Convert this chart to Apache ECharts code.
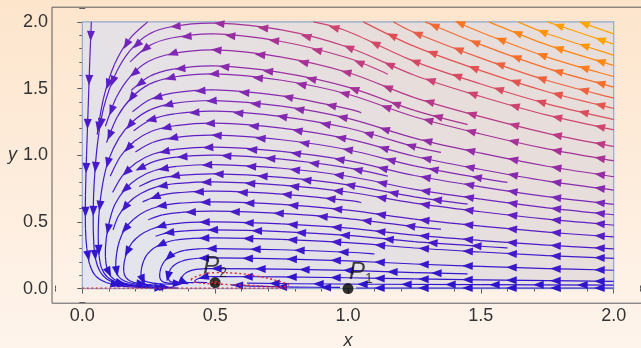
<!DOCTYPE html>
<html>
<head>
<meta charset="utf-8">
<script src="https://cdn.jsdelivr.net/npm/echarts@6/dist/echarts.min.js"></script>
<style>
  html, body { margin: 0; padding: 0; }
  #main { width: 641px; height: 348px; background: linear-gradient(180deg, #fde5cc 0%, #fef4ec 100%); }
</style>
</head>
<body>
<div id="main"></div>
<script>
// tick values
var majorTicks = [0, 0.5, 1, 1.5, 2];
var minorTicks = [-0.1, 0, 0.1, 0.2, 0.3, 0.4, 0.5, 0.6, 0.7, 0.8, 0.9, 1, 1.1, 1.2, 1.3, 1.4, 1.5, 1.6, 1.7, 1.8, 1.9, 2, 2.1];

// stream lines, in flow order (x, y)
var s009 = [[2,0.054],[1.75,0.059],[1.5,0.065],[1.25,0.072],[1,0.081],[0.75,0.087],[0.5,0.09],[0.46,0.087],[0.435,0.073],[0.423,0.05],[0.44,0.046],[0.47,0.045]];
var s015 = [[1.45,0.11],[1.25,0.12],[1,0.136],[0.75,0.146],[0.5,0.15],[0.455,0.148],[0.428,0.143],[0.405,0.132],[0.385,0.11],[0.374,0.08],[0.372,0.058],[0.385,0.047],[0.42,0.044]];
var s023 = [[2,0.137],[1.75,0.15],[1.5,0.166],[1.25,0.184],[1,0.208],[0.75,0.223],[0.5,0.23],[0.437,0.227],[0.401,0.219],[0.374,0.205],[0.352,0.184],[0.336,0.156],[0.326,0.12],[0.322,0.085],[0.33,0.055],[0.35,0.045],[0.39,0.04]];
var s030 = [[1.1,0.259],[1,0.272],[0.75,0.291],[0.5,0.3],[0.427,0.296],[0.385,0.286],[0.353,0.267],[0.328,0.24],[0.309,0.204],[0.298,0.165],[0.292,0.12],[0.292,0.08],[0.3,0.055],[0.32,0.043],[0.36,0.038]];
var s038 = [[2,0.226],[1.75,0.247],[1.5,0.274],[1.25,0.304],[1,0.344],[0.75,0.369],[0.5,0.38],[0.402,0.374],[0.346,0.362],[0.304,0.338],[0.27,0.304],[0.245,0.258],[0.231,0.209],[0.223,0.152],[0.221,0.1],[0.228,0.066],[0.25,0.046],[0.29,0.036],[0.34,0.032]];
var s044 = [[1.6,0.305],[1.5,0.317],[1.25,0.352],[1,0.398],[0.75,0.427],[0.5,0.44],[0.388,0.433],[0.324,0.419],[0.276,0.392]];
var s050 = [[2,0.298],[1.75,0.325],[1.5,0.36],[1.25,0.4],[1,0.453],[0.75,0.485],[0.5,0.5],[0.379,0.493],[0.31,0.476],[0.259,0.445],[0.217,0.4],[0.186,0.34],[0.169,0.275],[0.158,0.2],[0.156,0.13],[0.163,0.085],[0.182,0.055],[0.215,0.037],[0.26,0.028],[0.31,0.024]];
var s058 = [[1.35,0.445],[1.25,0.464],[1,0.525],[0.75,0.563],[0.5,0.58],[0.374,0.571],[0.302,0.552],[0.248,0.516]];
var s065 = [[2,0.387],[1.75,0.423],[1.5,0.468],[1.25,0.52],[1,0.588],[0.75,0.631],[0.5,0.65],[0.369,0.64],[0.294,0.619],[0.238,0.579],[0.193,0.52],[0.159,0.442],[0.14,0.358],[0.129,0.26],[0.126,0.17],[0.131,0.11],[0.147,0.07],[0.175,0.045],[0.215,0.03],[0.265,0.022]];
var s073 = [[1.05,0.645],[1,0.661],[0.75,0.708],[0.5,0.73],[0.364,0.719],[0.286,0.695],[0.227,0.65]];
var s080 = [[2,0.476],[1.75,0.52],[1.5,0.576],[1.25,0.64],[1,0.724],[0.75,0.776],[0.5,0.8],[0.36,0.788],[0.28,0.762],[0.22,0.712],[0.172,0.64],[0.136,0.544],[0.116,0.44]];
var s086 = [[1.45,0.633],[1.25,0.688],[1,0.778],[0.75,0.834],[0.5,0.86],[0.357,0.847],[0.276,0.819],[0.214,0.765]];
var s093 = [[2,0.553],[1.75,0.605],[1.5,0.67],[1.25,0.744],[1,0.842],[0.75,0.902],[0.5,0.93],[0.355,0.916],[0.272,0.885],[0.21,0.828],[0.161,0.744],[0.123,0.632],[0.103,0.512],[0.09,0.372],[0.087,0.24],[0.093,0.15],[0.108,0.09],[0.135,0.055],[0.175,0.033],[0.225,0.02]];
var s100 = [[1.15,0.842],[1,0.905],[0.75,0.97],[0.5,1.0],[0.353,0.985],[0.269,0.952],[0.206,0.89]];
var s106 = [[2,0.631],[1.75,0.689],[1.5,0.763],[1.25,0.848],[1,0.959],[0.75,1.028],[0.5,1.06],[0.352,1.044],[0.267,1.009],[0.203,0.943],[0.152,0.848],[0.114,0.721]];
var s115 = [[1.6,0.796],[1.5,0.828],[1.25,0.92],[1,1.041],[0.75,1.116],[0.5,1.15],[0.35,1.133],[0.264,1.095],[0.2,1.024]];
var s124 = [[2,0.738],[1.75,0.806],[1.5,0.893],[1.25,0.992],[1,1.122],[0.75,1.203],[0.5,1.24],[0.348,1.221],[0.261,1.18],[0.196,1.104],[0.144,0.992],[0.105,0.843]];
var s133 = [[1.35,1.021],[1.25,1.064],[1,1.204],[0.75,1.29],[0.5,1.33],[0.347,1.31],[0.259,1.266],[0.193,1.184]];
var s141 = [[2,0.839],[1.75,0.917],[1.5,1.015],[1.25,1.128],[1,1.276],[0.75,1.368],[0.5,1.41],[0.345,1.389],[0.257,1.342],[0.191,1.255],[0.138,1.128],[0.098,0.959],[0.076,0.776],[0.063,0.564],[0.06,0.38],[0.063,0.25],[0.073,0.15],[0.095,0.085],[0.13,0.047],[0.18,0.025],[0.25,0.013],[0.34,0.009]];
var s149 = [[1.05,1.317],[1,1.348],[0.75,1.445],[0.5,1.49],[0.344,1.468],[0.255,1.418],[0.189,1.326]];
var s161 = [[2,0.958],[1.75,1.047],[1.5,1.159],[1.25,1.288],[1,1.457],[0.75,1.562],[0.5,1.61],[0.343,1.586],[0.253,1.533],[0.186,1.433],[0.132,1.288],[0.091,1.095]];
var s167 = [[1.45,1.229],[1.25,1.336],[1,1.511],[0.75,1.62],[0.5,1.67],[0.342,1.645],[0.252,1.59],[0.184,1.486]];
var s179 = [[2,1.065],[1.75,1.164],[1.5,1.289],[1.25,1.432],[1,1.62],[0.75,1.736],[0.5,1.79],[0.341,1.763],[0.25,1.704],[0.182,1.593],[0.128,1.432],[0.087,1.217]];
var s191 = [[1.15,1.608],[1,1.729],[0.75,1.853],[0.5,1.91],[0.34,1.881],[0.249,1.818],[0.18,1.7]];
var s200 = [[2,1.19],[1.75,1.3],[1.5,1.44],[1.25,1.6],[1,1.81],[0.75,1.94],[0.5,1.99],[0.339,1.965],[0.247,1.904],[0.178,1.78],[0.123,1.6],[0.081,1.36],[0.058,1.1],[0.045,0.8],[0.041,0.55],[0.043,0.35],[0.05,0.22],[0.066,0.13],[0.093,0.07],[0.135,0.036],[0.2,0.017],[0.29,0.01]];
// lines entering from the top edge on the left
var t210 = [[0.246,2.0],[0.177,1.869],[0.121,1.68],[0.08,1.428],[0.056,1.155]];
var t400 = [[0.034,2.0],[0.028,1.7],[0.022,1.35],[0.016,1.0],[0.012,0.7],[0.012,0.45],[0.017,0.3],[0.028,0.18],[0.05,0.095],[0.09,0.045],[0.15,0.018],[0.24,0.007],[0.36,0.004]];
// lines leaving through the top edge on the right
var e1 = [[2,1.267],[1.75,1.385],[1.5,1.534],[1.25,1.704],[1,1.928],[0.87,2.0]];
var e2 = [[2,1.351],[1.75,1.476],[1.5,1.634],[1.25,1.816],[1.057,2.0]];
var e3 = [[2,1.428],[1.75,1.56],[1.5,1.728],[1.25,1.92],[1.171,2.0]];
var e4 = [[2,1.511],[1.75,1.651],[1.5,1.829],[1.29,2.0]];
var e5 = [[2,1.589],[1.75,1.736],[1.5,1.922],[1.41,2.0]];
var e6 = [[2,1.672],[1.75,1.827],[1.53,2.0]];
var e7 = [[2,1.749],[1.75,1.911],[1.64,2.0]];
var e8 = [[2,1.833],[1.75,2.0]];
var e9 = [[2,1.91],[1.87,2.0]];
// lines along the x axis
var b1 = [[2,0.004],[1.5,0.004],[1.03,0.004]];
var b2 = [[2,0.026],[1.5,0.029],[1.1,0.032],[0.8,0.036],[0.62,0.04]];
var b3 = [[0.97,0.008],[0.8,0.011],[0.65,0.018],[0.56,0.028]];

var streams = [s009, s015, s023, s030, s038, s044, s050, s058, s065, s073, s080, s086, s093, s100,
  s106, s115, s124, s133, s141, s149, s161, s167, s179, s191, s200,
  t210, t400, e1, e2, e3, e4, e5, e6, e7, e8, e9, b1, b2, b3];

// red dotted orbit around P2
var orbitLoop = [[0.409,0.069],[0.444,0.101],[0.506,0.119],[0.582,0.114],[0.669,0.089],[0.732,0.059],[0.776,0.026],[0.732,0.014],[0.632,0.024],[0.506,0.034],[0.431,0.044],[0.409,0.069]];
var orbitBase = [[0,0.003],[0.77,0.003]];
var orbitCore = [[0.485,0.045],[0.5,0.052],[0.516,0.045],[0.5,0.038],[0.485,0.045]];

// equilibrium points
var pointX = [1, 0.5];
var pointY = [0, 0.045];
var pointSub = ['1', '2'];

var ramp = [
  [0.00, [40, 18, 206]],
  [0.10, [58, 24, 204]],
  [0.25, [90, 30, 196]],
  [0.35, [122, 40, 184]],
  [0.50, [158, 46, 158]],
  [0.62, [200, 64, 120]],
  [0.72, [226, 82, 82]],
  [0.85, [252, 120, 32]],
  [1.00, [255, 166, 0]]
];

function speedColor(x, y) {
  var t = 0.02 + 0.13 * y + 0.2 * x * y;
  t = Math.max(0, Math.min(1, t));
  for (var i = 1; i < ramp.length; i++) {
    if (t <= ramp[i][0]) {
      var a = ramp[i - 1], b = ramp[i];
      var k = (t - a[0]) / (b[0] - a[0]);
      var c = [0, 1, 2].map(function (j) { return Math.round(a[1][j] + (b[1][j] - a[1][j]) * k); });
      return 'rgb(' + c.join(',') + ')';
    }
  }
  return 'rgb(255,166,0)';
}

function renderStream(params, api) {
  var idx = api.value(2);
  var line = streams[idx];
  var pts = line.map(function (p) { return api.coord(p); });
  var n = pts.length;
  var children = [];
  for (var i = 0; i < n - 1; i++) {
    var p0 = pts[Math.max(i - 1, 0)], p1 = pts[i], p2 = pts[i + 1], p3 = pts[Math.min(i + 2, n - 1)];
    var col = speedColor((line[i][0] + line[i + 1][0]) / 2, (line[i][1] + line[i + 1][1]) / 2);
    children.push({
      type: 'bezierCurve',
      shape: {
        x1: p1[0], y1: p1[1], x2: p2[0], y2: p2[1],
        cpx1: p1[0] + (p2[0] - p0[0]) / 6, cpy1: p1[1] + (p2[1] - p0[1]) / 6,
        cpx2: p2[0] - (p3[0] - p1[0]) / 6, cpy2: p2[1] - (p3[1] - p1[1]) / 6
      },
      style: { stroke: col, lineWidth: 1.2, fill: null }
    });
  }
  // arrow heads along the path, staggered from line to line
  var acc = 0, next = 14 + (idx * 17) % 34;
  for (var j = 0; j < n - 1; j++) {
    var a = pts[j], b = pts[j + 1];
    var dx = b[0] - a[0], dy = b[1] - a[1];
    var len = Math.sqrt(dx * dx + dy * dy);
    if (len < 0.01) continue;
    var ux = dx / len, uy = dy / len;
    while (acc + len >= next) {
      var f = (next - acc) / len;
      var px = a[0] + dx * f, py = a[1] + dy * f;
      var c = speedColor(line[j][0] + (line[j + 1][0] - line[j][0]) * f, line[j][1] + (line[j + 1][1] - line[j][1]) * f);
      children.push({
        type: 'polygon',
        shape: { points: [
          [px + ux * 5.5, py + uy * 5.5],
          [px - ux * 5 - uy * 4, py - uy * 5 + ux * 4],
          [px - ux * 5 + uy * 4, py - uy * 5 - ux * 4]
        ] },
        style: { fill: c }
      });
      next += 44;
    }
    acc += len;
  }
  return { type: 'group', children: children };
}

var axisFont = 'Liberation Sans';
var frameColor = '#5a5a5a';

function tickAxis(pos, values, len, labels, extra) {
  var ax = {
    type: 'value', position: pos, min: -0.114, max: 2.114,
    axisLine: { show: false }, splitLine: { show: false },
    axisTick: { show: true, inside: true, length: len, customValues: values, lineStyle: { color: frameColor, width: 1 } },
    axisLabel: { show: labels, customValues: values, formatter: function (v) { return v.toFixed(1); },
      fontSize: 18, color: '#333', fontFamily: axisFont, margin: 4 }
  };
  return Object.assign(ax, extra || {});
}

var xAxes = [
  tickAxis('bottom', majorTicks, 5, true, { name: 'x', nameLocation: 'middle', nameGap: 29,
    nameTextStyle: { fontStyle: 'italic', fontSize: 18, color: '#333', fontFamily: axisFont } }),
  tickAxis('bottom', minorTicks, 3, false),
  tickAxis('top', majorTicks, 5, false),
  tickAxis('top', minorTicks, 3, false)
];
var yAxes = [
  tickAxis('left', majorTicks, 5, true, { min: -0.11, max: 2.11, name: 'y', nameLocation: 'middle', nameGap: 34, nameRotate: 0,
    nameTextStyle: { fontStyle: 'italic', fontSize: 18, color: '#333', fontFamily: axisFont } }),
  tickAxis('left', minorTicks, 3, false, { min: -0.11, max: 2.11 }),
  tickAxis('right', majorTicks, 5, false, { min: -0.11, max: 2.11 }),
  tickAxis('right', minorTicks, 3, false, { min: -0.11, max: 2.11 })
];

// one label series per equilibrium point; position is relative to the 2px symbol box
var labelSpots = [[2, -1], [-11, -1]];
function pointLabel(i) {
  return {
    type: 'scatter', z: 9, zlevel: 1, silent: true, symbolSize: 2,
    itemStyle: { color: 'rgba(0,0,0,0)' },
    labelLayout: { hideOverlap: false },
    data: [[pointX[i], pointY[i], pointSub[i]]],
    label: {
      show: true, position: labelSpots[i], align: 'left', verticalAlign: 'bottom',
      formatter: function (p) { return '{p|P}{s|' + p.value[2] + '}'; },
      textBorderWidth: 0,
      rich: {
        p: { fontSize: 24, fontStyle: 'italic', fontFamily: axisFont, color: '#111', lineHeight: 26, verticalAlign: 'top' },
        s: { fontSize: 14, fontFamily: axisFont, color: '#111', lineHeight: 14, verticalAlign: 'bottom' }
      }
    }
  };
}

var chart = echarts.init(document.getElementById('main'), null, { renderer: 'canvas' });

var option = {
  backgroundColor: 'transparent',
  animation: false,
  grid: { left: 52, top: 7.2, width: 592, height: 296, containLabel: false, outerBoundsMode: 'none',
    show: true, borderColor: frameColor, borderWidth: 1, backgroundColor: 'transparent' },
  xAxis: xAxes,
  yAxis: yAxes,
  series: [
    {
      type: 'scatter', data: [[0, 0]], symbolSize: 0, z: 1, silent: true,
      markArea: {
        silent: true,
        itemStyle: {
          color: new echarts.graphic.LinearGradient(0, 1, 0.5, 0, [
            { offset: 0, color: '#e3e5f0' },
            { offset: 1, color: '#e7dedc' }
          ]),
          borderColor: '#90a8d0', borderWidth: 1.2
        },
        data: [[{ coord: [0, 0] }, { coord: [2, 2] }]]
      }
    },
    {
      type: 'custom', z: 3, silent: true,
      data: streams.map(function (s, i) { return [s[0][0], s[0][1], i]; }),
      encode: { x: 0, y: 1 },
      renderItem: renderStream
    },
    {
      type: 'line', data: orbitLoop, smooth: 0.5, showSymbol: false, z: 4, silent: true,
      lineStyle: { color: '#e3262a', width: 1.4, type: [2, 2.5] }
    },
    {
      type: 'line', data: orbitBase, showSymbol: false, z: 4, silent: true,
      lineStyle: { color: '#e3262a', width: 1.4, type: [2, 2.5] }
    },
    {
      type: 'scatter', z: 5, silent: true, symbolSize: 11,
      itemStyle: { color: '#000' },
      data: pointX.map(function (x, i) { return [x, pointY[i]]; })
    },
    {
      type: 'line', data: orbitCore, smooth: 0.5, showSymbol: false, z: 6, silent: true,
      lineStyle: { color: '#e3262a', width: 1.4, type: [2, 2] }
    },
    pointLabel(0),
    pointLabel(1)
  ]
};

chart.setOption(option);
window.addEventListener('resize', function () { chart.resize(); });
</script>
</body>
</html>
